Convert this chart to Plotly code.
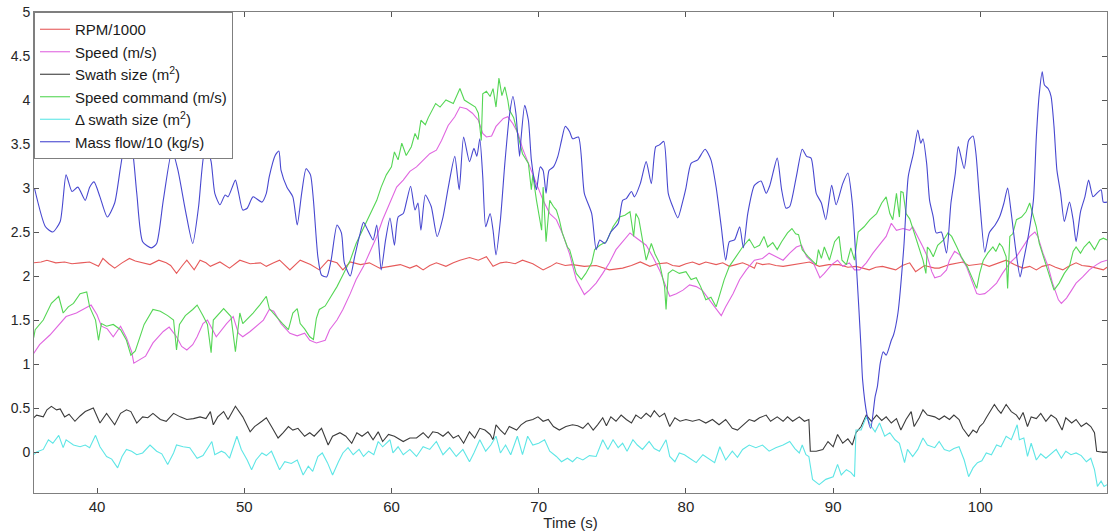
import plotly.graph_objects as go

# ---------------- data ----------------
blue_t = [35.75, 36.5, 37.0, 37.5, 37.9, 38.3, 38.7, 39.2, 39.5, 39.8, 40.2, 40.7, 41.2, 41.6, 42.0, 42.35,
          42.7, 43.1, 43.7, 44.05, 44.5, 45.1, 45.5, 46.0, 46.5, 46.9, 47.3, 47.5, 47.75, 48.0, 48.35, 48.7,
          48.9, 49.4, 49.6, 49.9, 50.2, 50.6, 51.2, 51.5, 51.7, 52.1, 52.35, 52.5, 52.9, 53.3, 53.6, 53.9,
          54.2, 54.5, 54.7, 55.0, 55.25, 55.6, 55.9, 56.3, 56.6, 56.8, 57.2, 57.5, 57.85, 58.1, 58.4, 58.75,
          59.0, 59.3, 59.6, 59.9, 60.2, 60.45, 60.8, 61.0, 61.3, 61.6, 61.8, 62.0, 62.3, 62.7, 63.1, 63.5,
          63.85, 64.3, 64.6, 64.9, 65.3, 65.6, 65.8, 66.0, 66.2, 66.4, 66.7, 66.9, 67.1, 67.4, 67.7, 68.0,
          68.25, 68.45, 68.7, 68.8, 69.05, 69.3, 69.5, 69.7, 69.85, 70.1, 70.3, 70.5, 70.7, 71.0, 71.3, 71.55,
          71.8, 72.1, 72.3, 72.7, 73.1, 73.6, 73.9, 74.15, 74.5, 74.9, 75.4, 75.7, 75.95, 76.3, 76.5, 76.9,
          77.3, 77.65, 77.95, 78.2, 78.5, 78.8, 79.1, 79.45, 79.8, 80.0, 80.35, 80.8, 81.3, 81.7, 82.05, 82.4,
          82.7, 82.95, 83.3, 83.65, 83.9, 84.2, 84.65, 85.1, 85.45, 85.7, 86.2, 86.5, 86.8, 87.05, 87.5, 87.9,
          88.2, 88.5, 88.85, 89.2, 89.5, 89.9, 90.2, 90.65, 91.0, 91.3, 91.5, 91.75, 91.9, 92.0, 92.3, 92.55,
          92.85, 93.0, 93.2, 93.4, 93.6, 93.95, 94.1, 94.4, 94.8, 95.1, 95.45, 95.75, 95.95, 96.1, 96.35, 96.55,
          96.8, 97.0, 97.35, 97.7, 98.0, 98.3, 98.5, 98.9, 99.2, 99.5, 99.7, 99.95, 100.3, 100.6, 101.0, 101.3,
          101.6, 101.85, 102.1, 102.4, 102.7, 102.9, 103.25, 103.6, 103.8, 104.0, 104.2, 104.35, 104.6, 104.8,
          105.0, 105.2, 105.45, 105.7, 106.05, 106.3, 106.5, 106.8, 107.1, 107.35, 107.65, 107.9, 108.2,
          108.35, 108.6]
blue_v = [3.00, 2.56, 2.50, 2.62, 3.15, 2.96, 3.01, 2.86, 3.01, 3.07, 2.90, 2.67, 2.83, 3.24, 3.60, 3.49,
          2.94, 2.39, 2.32, 2.37, 2.86, 3.43, 3.20, 2.75, 2.37, 2.79, 3.41, 3.43, 3.30, 2.94, 2.81, 2.92,
          2.90, 3.09, 2.96, 2.75, 2.77, 2.90, 2.84, 2.94, 3.13, 3.37, 3.42, 3.20, 3.01, 2.90, 2.58, 2.94,
          3.22, 3.15, 2.86, 2.22, 2.01, 1.99, 2.18, 2.58, 2.49, 2.15, 2.00, 2.22, 2.47, 2.61, 2.52, 2.41,
          2.58, 2.07, 2.41, 2.66, 2.35, 2.67, 2.71, 2.83, 3.02, 2.75, 2.83, 2.52, 2.92, 2.79, 2.45, 2.67,
          3.00, 3.36, 2.98, 3.58, 3.30, 3.45, 3.36, 3.56, 3.13, 2.56, 2.71, 2.52, 2.24, 2.64, 3.28, 3.81,
          4.04, 3.85, 3.36, 3.56, 3.94, 3.77, 3.32, 3.09, 2.98, 3.24, 3.20, 2.94, 3.20, 3.24, 3.36, 3.54,
          3.70, 3.64, 3.56, 3.58, 2.94, 2.71, 2.30, 2.41, 2.37, 2.50, 2.60, 2.86, 2.88, 2.96, 2.90, 3.05,
          3.30, 3.05, 3.47, 3.49, 3.53, 2.94, 2.79, 2.66, 2.86, 3.00, 3.28, 3.32, 3.44, 3.32, 3.01, 2.56,
          2.18, 2.39, 2.41, 2.56, 2.32, 2.71, 3.03, 3.08, 2.94, 3.03, 3.34, 2.98, 2.77, 2.79, 3.13, 3.44,
          3.36, 3.34, 2.94, 2.83, 2.64, 3.03, 2.81, 3.05, 3.17, 2.83, 2.33, 1.62, 1.16, 0.82, 0.42, 0.27,
          0.63, 0.74, 1.01, 1.14, 1.10, 1.27, 1.33, 1.58, 2.33, 3.13, 3.39, 3.66, 3.51, 3.56, 3.28, 2.86,
          2.67, 2.49, 2.50, 2.26, 2.83, 3.17, 3.47, 3.22, 3.54, 3.59, 3.39, 2.86, 2.27, 2.49, 2.58, 2.67,
          2.83, 3.00, 2.71, 2.30, 1.99, 2.15, 2.45, 2.86, 3.58, 4.07, 4.32, 4.17, 4.13, 4.04,
          3.70, 3.20, 2.94, 2.62, 2.84, 2.64, 2.39, 2.73, 2.90, 3.09, 2.90, 2.94, 2.98,
          2.84, 2.84]

green_t = [35.7, 35.8, 36.35, 36.9, 37.4, 37.7, 38.05, 38.4, 38.85, 39.3, 39.5, 39.9, 40.1, 40.3, 40.65,
           41.1, 41.6, 42.0, 42.3, 42.6, 43.2, 43.8, 44.3, 44.8, 45.2, 45.4, 45.6, 46.0, 46.5, 46.8, 47.2,
           47.5, 47.75, 47.9, 48.6, 49.1, 49.4, 49.7, 49.9, 50.6, 51.05, 51.5, 51.7, 52.1, 52.6, 53.0, 53.3,
           53.6, 53.8, 54.1, 54.45, 54.7, 54.9, 55.1, 55.5, 55.9, 56.3, 56.75, 57.2, 57.6, 58.1, 58.55, 59.0,
           59.3, 59.65, 60.0, 60.2, 60.45, 60.7, 61.0, 61.35, 61.6, 61.8, 62.0, 62.3, 62.5, 62.8, 63.0, 63.3,
           63.7, 64.2, 64.65, 64.95, 65.3, 65.7, 65.9, 66.1, 66.2, 66.45, 66.7, 66.9, 67.1, 67.3, 67.5, 67.7,
           67.9, 68.0, 68.3, 68.7, 68.9, 69.3, 69.5, 69.6, 69.85, 70.2, 70.3, 70.5, 70.75, 71.0, 71.2, 71.4,
           71.6, 71.95, 72.1, 72.55, 72.9, 73.2, 73.6, 73.8, 74.15, 74.6, 75.05, 75.5, 75.85, 76.2, 76.45,
           76.6, 76.8, 77.05, 77.3, 77.65, 77.9, 78.2, 78.55, 78.65, 78.8, 79.1, 79.55, 80.0, 80.35, 80.7,
           81.0, 81.35, 81.7, 82.05, 82.3, 82.6, 82.95, 83.4, 83.85, 84.3, 84.65, 85.0, 85.3, 85.55, 85.9,
           86.2, 86.5, 86.9, 87.2, 87.45, 87.65, 87.9, 88.3, 88.85, 89.0, 89.2, 89.4, 89.75, 90.1, 90.4,
           90.6, 90.9, 91.2, 91.45, 91.7, 92.1, 92.5, 92.95, 93.3, 93.6, 93.85, 94.05, 94.3, 94.5, 94.6,
           94.75, 94.95, 95.2, 95.5, 95.85, 96.1, 96.3, 96.4, 96.55, 96.8, 97.1, 97.5, 97.8, 98.05, 98.4,
           98.7, 99.1, 99.4, 99.75, 99.95, 100.2, 100.5, 100.85, 101.05, 101.3, 101.5, 101.75, 101.85, 102.0,
           102.2, 102.45, 102.8, 103.1, 103.35, 103.55, 103.8, 104.0, 104.35, 104.7, 105.0, 105.35, 105.7,
           106.05, 106.3, 106.5, 106.8, 107.05, 107.4, 107.75, 108.1, 108.35, 108.6]
green_v = [1.30, 1.39, 1.50, 1.69, 1.77, 1.58, 1.65, 1.69, 1.80, 1.82, 1.65, 1.50, 1.27, 1.46, 1.43,
           1.45, 1.39, 1.27, 1.10, 1.15, 1.45, 1.62, 1.60, 1.55, 1.50, 1.16, 1.45, 1.55, 1.62, 1.67, 1.55,
           1.45, 1.13, 1.50, 1.63, 1.54, 1.14, 1.58, 1.46, 1.58, 1.67, 1.77, 1.63, 1.55, 1.46, 1.39, 1.58,
           1.63, 1.46, 1.40, 1.31, 1.28, 1.52, 1.62, 1.66, 1.77, 1.88, 2.03, 2.18, 2.37, 2.54, 2.69, 2.86,
           3.01, 3.15, 3.24, 3.41, 3.32, 3.51, 3.37, 3.47, 3.62, 3.55, 3.77, 3.72, 3.80, 3.89, 3.96, 3.92,
           4.00, 3.96, 4.13, 4.00, 3.96, 3.92, 3.85, 3.54, 4.07, 4.10, 4.04, 4.13, 3.92, 4.25, 4.05, 4.15,
           4.00, 3.89, 3.80, 3.54, 3.39, 3.28, 2.98, 3.15, 2.86, 2.52, 3.01, 2.39, 2.86, 2.79, 2.75, 2.64,
           2.49, 2.33, 2.30, 2.03, 1.96, 2.03, 2.15, 2.30, 2.35, 2.39, 2.56, 2.67, 2.69, 2.73, 2.45,
           2.71, 2.65, 2.41, 2.18, 2.37, 2.25, 2.15, 1.88, 1.62, 2.03, 2.07, 2.03, 2.05, 1.96, 1.98,
           1.88, 1.73, 1.76, 1.65, 1.80, 1.96, 2.11, 2.22, 2.33, 2.42, 2.32, 2.35, 2.45, 2.33, 2.38,
           2.30, 2.39, 2.49, 2.54, 2.48, 2.47, 2.30, 2.22, 2.13, 2.30, 2.20, 2.33, 2.18, 2.39, 2.45,
           2.18, 2.13, 2.32, 2.18, 2.50, 2.56, 2.64, 2.71, 2.83, 2.90, 2.71, 2.64, 2.94, 2.67, 2.96,
           2.95, 2.71, 2.65, 2.49, 2.33, 2.18, 2.03, 2.33, 2.30, 2.22, 2.35, 2.41, 2.49, 2.45, 2.33,
           2.22, 2.11, 1.99, 1.86, 2.03, 2.18, 2.26, 2.33, 2.28, 2.37, 2.33, 2.22, 1.86, 2.45,
           2.48, 2.64, 2.67, 2.73, 2.83, 2.71, 2.56, 2.37, 2.18, 1.99, 1.84, 1.92, 2.03,
           2.11, 2.28, 2.33, 2.26, 2.33, 2.39, 2.30, 2.41, 2.43, 2.41]

magenta_t = [35.7, 36.1, 36.8, 37.5, 37.9, 38.6, 39.2, 39.6, 40.0, 40.3, 40.7, 41.1, 41.6, 42.0, 42.35,
             42.5, 43.3, 43.8, 44.5, 44.9, 45.4, 45.75, 46.1, 46.5, 46.8, 47.2, 47.5, 47.8, 48.1, 48.8,
             49.25, 49.6, 49.9, 50.4, 50.8, 51.3, 51.7, 52.0, 52.5, 53.1, 53.6, 54.1, 54.45, 54.9, 55.5,
             55.8, 56.3, 56.7, 57.2, 57.6, 58.1, 58.5, 59.0, 59.4, 59.9, 60.35, 60.8, 61.25, 61.7, 62.15,
             62.6, 63.05, 63.4, 63.85, 64.3, 64.65, 65.1, 65.5, 65.9, 66.2, 66.45, 66.8, 67.1, 67.6, 67.9,
             68.25, 68.6, 68.9, 69.4, 69.85, 70.3, 70.75, 71.2, 71.6, 72.1, 72.55, 72.9, 73.1, 73.45, 73.9,
             74.35, 74.8, 75.25, 75.7, 76.2, 76.5, 76.85, 77.3, 77.75, 78.2, 78.55, 78.9, 79.35, 79.8, 80.25,
             80.7, 81.1, 81.6, 82.05, 82.4, 82.7, 83.2, 83.65, 84.1, 84.65, 85.2, 85.65, 86.1, 86.6, 87.05,
             87.5, 87.85, 88.2, 88.65, 89.1, 89.4, 89.9, 90.3, 90.65, 91.1, 91.45, 91.8, 92.25, 92.7, 93.15,
             93.6, 93.95, 94.3, 94.75, 95.2, 95.4, 95.75, 96.1, 96.4, 96.7, 96.9, 97.3, 97.7, 97.9, 98.25,
             98.6, 99.05, 99.4, 99.75, 99.95, 100.3, 100.6, 101.1, 101.5, 102.0, 102.45, 102.9, 103.35,
             103.7, 103.9, 104.25, 104.6, 104.9, 105.3, 105.5, 105.85, 106.2, 106.5, 106.95, 107.4, 107.9,
             108.2, 108.6]
magenta_v = [1.12, 1.22, 1.33, 1.46, 1.54, 1.58, 1.63, 1.67, 1.56, 1.43, 1.40, 1.31, 1.43, 1.30, 1.14,
             1.01, 1.09, 1.24, 1.37, 1.42, 1.31, 1.20, 1.16, 1.22, 1.31, 1.46, 1.50, 1.40, 1.31, 1.46,
             1.54, 1.35, 1.31, 1.37, 1.43, 1.50, 1.62, 1.60, 1.46, 1.35, 1.32, 1.35, 1.27, 1.24, 1.27,
             1.39, 1.50, 1.62, 1.80, 1.96, 2.11, 2.26, 2.45, 2.64, 2.84, 3.01, 3.09, 3.19, 3.24, 3.32,
             3.39, 3.43, 3.54, 3.71, 3.81, 3.92, 3.90, 3.85, 3.77, 3.62, 3.58, 3.59, 3.70, 3.79, 3.81,
             3.73, 3.62, 3.45, 3.24, 3.05, 2.86, 2.71, 2.64, 2.49, 2.25, 1.96, 1.84, 1.79, 1.84, 1.92,
             2.03, 2.15, 2.30, 2.39, 2.49, 2.45, 2.41, 2.35, 2.22, 2.07, 1.92, 1.77, 1.80, 1.84, 1.90,
             1.88, 1.84, 1.73, 1.63, 1.55, 1.65, 1.80, 1.96, 2.07, 2.18, 2.20, 2.26, 2.22, 2.18, 2.26,
             2.33, 2.35, 2.22, 2.15, 1.98, 2.03, 2.13, 2.18, 2.11, 2.15, 2.07, 2.07, 2.15, 2.26, 2.35,
             2.45, 2.60, 2.52, 2.54, 2.52, 2.56, 2.45, 2.33, 2.22, 2.05, 1.98, 2.00, 2.07, 2.18, 2.28,
             2.24, 2.11, 1.96, 1.80, 1.79, 1.80, 1.84, 1.92, 2.03, 2.15, 2.22, 2.33, 2.45,
             2.50, 2.45, 2.26, 2.11, 1.92, 1.73, 1.69, 1.75, 1.84, 1.92, 1.99, 2.07, 2.13,
             2.16, 2.18]

red_t = [35.7, 36.2, 36.6, 37.2, 37.8, 38.3, 38.9, 39.5, 40.1, 40.4, 40.8, 41.2, 41.7, 42.2, 42.6, 43.1,
         43.6, 44.2, 44.7, 45.0, 45.4, 45.8, 46.1, 46.6, 47.0, 47.4, 47.7, 48.35, 49.0, 49.7, 50.4, 51.1,
         51.5, 52.0, 52.4, 53.1, 53.8, 54.5, 55.1, 55.7, 56.3, 56.7, 57.2, 57.9, 58.5, 59.2, 59.9, 60.6,
         61.25, 61.7, 62.15, 62.6, 63.05, 63.7, 64.2, 64.65, 65.3, 65.9, 66.45, 66.9, 67.4, 67.8, 68.4,
         68.9, 69.6, 70.3, 70.8, 71.2, 71.8, 72.3, 73.1, 73.9, 74.8, 75.7, 76.3, 76.9, 77.55, 78.1, 78.7,
         79.1, 79.55, 80.0, 80.45, 80.9, 81.35, 82.05, 82.5, 82.95, 83.4, 83.85, 84.3, 84.65, 84.8, 85.2,
         85.65, 86.1, 86.6, 87.25, 87.8, 88.4, 89.05, 89.7, 90.4, 91.0, 91.55, 92.0, 92.45, 92.9, 93.35,
         93.8, 94.25, 94.7, 95.2, 95.6, 96.2, 96.9, 97.2, 97.9, 98.3, 98.8, 99.2, 99.7, 100.1, 100.6, 101.2,
         101.75, 102.3, 102.9, 103.35, 103.8, 104.2, 104.7, 105.1, 105.6, 106.0, 106.5, 106.9, 107.4,
         107.9, 108.35, 108.6]
red_v = [2.15, 2.16, 2.18, 2.15, 2.16, 2.14, 2.15, 2.16, 2.11, 2.20, 2.14, 2.09, 2.15, 2.20, 2.17, 2.15,
         2.13, 2.18, 2.15, 2.12, 2.03, 2.12, 2.18, 2.07, 2.18, 2.15, 2.11, 2.16, 2.09, 2.18, 2.14, 2.15,
         2.11, 2.15, 2.18, 2.07, 2.18, 2.13, 2.07, 2.18, 2.15, 2.07, 2.16, 2.13, 2.15, 2.09, 2.11, 2.13,
         2.09, 2.12, 2.07, 2.12, 2.15, 2.11, 2.15, 2.18, 2.21, 2.18, 2.22, 2.11, 2.15, 2.16, 2.14,
         2.18, 2.14, 2.07, 2.11, 2.15, 2.12, 2.13, 2.11, 2.12, 2.07, 2.09, 2.12, 2.16, 2.11, 2.14, 2.15,
         2.12, 2.11, 2.14, 2.16, 2.13, 2.16, 2.13, 2.15, 2.11, 2.13, 2.15, 2.12, 2.09, 2.15, 2.13,
         2.14, 2.12, 2.11, 2.13, 2.15, 2.16, 2.11, 2.13, 2.13, 2.10, 2.11, 2.09, 2.07, 2.10, 2.11,
         2.09, 2.07, 2.12, 2.15, 2.05, 2.12, 2.09, 2.09, 2.13, 2.14, 2.16, 2.12, 2.13, 2.14, 2.11, 2.15,
         2.18, 2.13, 2.09, 2.11, 2.07, 2.11, 2.13, 2.10, 2.07, 2.11, 2.15, 2.12, 2.11,
         2.09, 2.07, 2.10]

black_t = [35.7, 35.9, 36.35, 36.6, 36.9, 37.25, 37.5, 37.8, 38.1, 38.5, 38.85, 39.2, 39.75, 40.2, 40.65,
           41.2, 41.6, 42.0, 42.3, 42.7, 43.1, 43.45, 43.8, 44.3, 44.7, 45.2, 45.65, 46.1, 46.55, 47.0,
           47.4, 47.7, 47.9, 48.2, 48.6, 48.9, 49.4, 49.6, 49.9, 50.4, 50.7, 51.2, 51.5, 51.85, 52.3,
           52.65, 53.0, 53.3, 53.65, 54.1, 54.45, 54.75, 55.25, 55.7, 56.0, 56.5, 56.9, 57.3, 57.65, 58.0,
           58.4, 58.75, 59.1, 59.4, 59.8, 60.2, 60.8, 61.25, 61.7, 62.15, 62.5, 62.8, 63.15, 63.5, 63.85,
           64.2, 64.55, 64.9, 65.3, 65.65, 66.0, 66.35, 66.7, 66.9, 67.1, 67.4, 67.7, 68.0, 68.5, 68.8,
           69.15, 69.6, 69.95, 70.3, 70.65, 71.0, 71.4, 71.85, 72.3, 72.65, 73.0, 73.35, 73.7, 74.0, 74.35,
           74.6, 74.9, 75.25, 75.6, 75.95, 76.3, 76.6, 76.95, 77.3, 77.6, 77.85, 78.2, 78.55, 78.9, 79.25,
           79.6, 80.0, 80.45, 80.9, 81.35, 81.8, 82.25, 82.7, 83.15, 83.5, 83.9, 84.3, 84.65, 85.0, 85.45,
           85.75, 86.2, 86.6, 86.9, 87.25, 87.7, 88.05, 88.35, 88.45, 88.85, 89.3, 89.65, 90.0, 90.3, 90.65,
           91.0, 91.3, 91.55, 91.9, 92.25, 92.6, 92.95, 93.3, 93.6, 93.95, 94.3, 94.6, 94.95, 95.3, 95.5,
           95.85, 96.1, 96.4, 96.9, 97.2, 97.55, 97.9, 98.2, 98.55, 98.8, 99.2, 99.5, 99.75, 99.95, 100.2,
           100.4, 100.6, 100.95, 101.2, 101.4, 101.75, 102.1, 102.45, 102.65, 102.9, 103.2, 103.45, 103.8,
           104.1, 104.45, 104.8, 105.15, 105.55, 105.8, 106.2, 106.5, 106.85, 107.2, 107.5, 107.75, 107.9,
           108.2, 108.6]
black_v = [0.39, 0.42, 0.40, 0.48, 0.52, 0.48, 0.49, 0.40, 0.43, 0.35, 0.41, 0.46, 0.50, 0.33, 0.44,
           0.31, 0.44, 0.48, 0.46, 0.33, 0.40, 0.39, 0.44, 0.37, 0.35, 0.44, 0.40, 0.37, 0.38, 0.40,
           0.38, 0.46, 0.31, 0.40, 0.46, 0.37, 0.52, 0.47, 0.40, 0.23, 0.29, 0.35, 0.39, 0.29, 0.16,
           0.22, 0.29, 0.25, 0.27, 0.18, 0.22, 0.18, 0.27, 0.08, 0.18, 0.22, 0.18, 0.10, 0.22, 0.18,
           0.23, 0.14, 0.23, 0.12, 0.20, 0.18, 0.12, 0.16, 0.16, 0.22, 0.16, 0.23, 0.22, 0.18, 0.23,
           0.16, 0.19, 0.10, 0.23, 0.16, 0.27, 0.25, 0.20, 0.14, 0.31, 0.25, 0.20, 0.29, 0.25, 0.31,
           0.35, 0.37, 0.40, 0.35, 0.37, 0.29, 0.25, 0.29, 0.31, 0.30, 0.27, 0.33, 0.25, 0.31, 0.39,
           0.30, 0.40, 0.35, 0.42, 0.37, 0.33, 0.42, 0.38, 0.44, 0.40, 0.47, 0.40, 0.44, 0.29, 0.39,
           0.35, 0.37, 0.35, 0.37, 0.33, 0.37, 0.31, 0.37, 0.27, 0.25, 0.31, 0.37, 0.35, 0.39, 0.42,
           0.35, 0.40, 0.35, 0.40, 0.35, 0.40, 0.35, 0.37, 0.01, 0.01, 0.03, 0.12, 0.06, 0.20, 0.10,
           0.15, 0.08, 0.22, 0.29, 0.42, 0.35, 0.42, 0.36, 0.40, 0.33, 0.38, 0.25, 0.37, 0.46, 0.29,
           0.39, 0.48, 0.42, 0.40, 0.37, 0.41, 0.37, 0.42, 0.37, 0.27, 0.18, 0.25, 0.22, 0.29, 0.33,
           0.39, 0.44, 0.54, 0.48, 0.44, 0.54, 0.46, 0.42, 0.37, 0.45, 0.29, 0.40, 0.38,
           0.44, 0.35, 0.42, 0.38, 0.25, 0.39, 0.33, 0.37, 0.29, 0.33, 0.29, 0.22, 0.01,
           0.00, 0.00]

cyan_t = [35.7, 35.9, 36.35, 36.7, 37.0, 37.4, 37.7, 37.9, 38.4, 38.85, 39.2, 39.5, 39.9, 40.2, 40.65,
          41.0, 41.4, 41.7, 42.0, 42.35, 42.7, 43.1, 43.6, 44.05, 44.4, 44.8, 45.2, 45.4, 45.85, 46.3,
          46.8, 47.2, 47.8, 48.0, 48.45, 48.7, 49.0, 49.5, 49.8, 50.2, 50.5, 50.8, 51.2, 51.5, 51.85,
          52.2, 52.4, 52.75, 53.2, 53.6, 54.0, 54.35, 54.65, 55.0, 55.3, 55.65, 56.0, 56.4, 56.7, 57.05,
          57.4, 57.8, 58.1, 58.45, 58.8, 59.1, 59.4, 59.9, 60.1, 60.45, 60.8, 61.25, 61.7, 62.15, 62.6,
          63.05, 63.5, 63.95, 64.4, 64.85, 65.3, 65.6, 66.0, 66.4, 66.75, 67.1, 67.4, 67.75, 68.1, 68.55,
          68.9, 69.25, 69.6, 70.0, 70.4, 70.75, 71.2, 71.55, 71.95, 72.3, 72.6, 73.0, 73.45, 73.9, 74.35,
          74.7, 75.05, 75.4, 75.7, 76.0, 76.4, 76.7, 77.05, 77.5, 77.85, 78.2, 78.65, 78.9, 79.25, 79.55,
          79.9, 80.25, 80.7, 81.15, 81.55, 81.95, 82.3, 82.7, 83.15, 83.5, 83.85, 84.3, 84.75, 85.2, 85.65,
          86.1, 86.6, 87.05, 87.4, 87.7, 87.9, 88.15, 88.35, 88.6, 89.05, 89.5, 90.0, 90.3, 90.55, 90.9,
          91.2, 91.45, 91.55, 91.9, 92.25, 92.6, 92.85, 93.15, 93.5, 93.85, 94.2, 94.5, 94.85, 95.05, 95.4,
          95.75, 96.1, 96.4, 96.9, 97.2, 97.55, 97.9, 98.2, 98.55, 98.9, 99.2, 99.5, 99.8, 100.1, 100.4,
          100.75, 101.1, 101.4, 101.75, 102.1, 102.3, 102.5, 102.65, 102.95, 103.2, 103.45, 103.8, 104.1,
          104.45, 104.8, 105.15, 105.5, 105.8, 106.15, 106.5, 106.85, 107.2, 107.5, 107.75, 107.95, 108.2,
          108.4, 108.6]
cyan_v = [-0.03, 0.00, 0.03, 0.14, 0.10, 0.19, 0.05, 0.14, 0.08, 0.06, 0.08, 0.05, 0.19, 0.06, -0.05,
          -0.08, -0.18, -0.05, 0.03, 0.01, -0.03, -0.01, 0.08, 0.01, -0.02, -0.14, -0.01, 0.08, 0.06, 0.05,
          -0.07, -0.04, 0.12, -0.03, 0.01, -0.01, -0.07, 0.18, 0.03, -0.09, -0.20, -0.09, -0.01, -0.04, 0.01,
          -0.12, -0.20, -0.11, -0.13, -0.09, -0.26, -0.16, -0.22, -0.05, -0.01, -0.12, -0.26, -0.11, -0.01, 0.05,
          -0.03, 0.03, -0.05, 0.01, -0.03, 0.12, 0.06, 0.14, -0.01, 0.06, -0.03, 0.03, -0.05, 0.06, 0.03,
          0.12, -0.03, 0.05, -0.05, 0.03, -0.11, -0.01, 0.14, 0.01, 0.08, 0.18, -0.01, 0.08, -0.03, 0.18,
          -0.03, 0.18, 0.08, 0.10, 0.14, 0.01, -0.05, -0.11, -0.07, -0.11, -0.06, -0.09, -0.04, -0.05, 0.14,
          0.03, 0.14, 0.05, 0.10, 0.01, 0.14, 0.08, 0.03, 0.12, 0.04, 0.01, 0.14, -0.05, -0.11, -0.01,
          -0.03, -0.07, -0.12, -0.03, -0.08, -0.12, 0.06, -0.09, 0.01, -0.06, 0.03, 0.08, 0.05, 0.08, 0.01,
          0.05, 0.08, 0.12, 0.04, -0.01, 0.08, -0.03, -0.05, -0.31, -0.37, -0.31, -0.28, -0.14, -0.26, -0.20,
          -0.23, -0.28, 0.25, 0.25, 0.40, 0.29, 0.23, 0.33, 0.18, 0.22, 0.14, 0.10, -0.12, 0.03, -0.05,
          0.03, 0.16, 0.08, 0.05, 0.12, 0.03, 0.01, 0.04, 0.06, -0.09, -0.28, -0.18, -0.12, -0.10, -0.01,
          -0.03, 0.08, 0.06, 0.18, 0.14, 0.22, 0.31, 0.14, 0.16, -0.05, 0.10, -0.09, -0.02,
          -0.07, -0.02, 0.03, -0.07, 0.01, -0.03, -0.01, -0.04, -0.11, -0.07, -0.20, -0.39, -0.33,
          -0.39, -0.37]

series_names = ["RPM/1000", "Speed (m/s)", "Swath size (m<sup>2</sup>)", "Speed command (m/s)",
                "\u0394 swath size (m<sup>2</sup>)", "Mass flow/10 (kg/s)"]
series_colors = ["#e65a5a", "#e066e0", "#3c3c3c", "#55d655", "#5ee6e6", "#4848d0"]
series_shapes = ["linear", "linear", "linear", "linear", "linear", "spline"]
x_ticks = [40, 50, 60, 70, 80, 90, 100]
y_ticks = [0, 0.5, 1, 1.5, 2, 2.5, 3, 3.5, 4, 4.5, 5]

# ---------------- figure ----------------
fig = go.Figure()
series = [(red_t, red_v), (magenta_t, magenta_v), (black_t, black_v),
          (green_t, green_v), (cyan_t, cyan_v), (blue_t, blue_v)]
for (tx, vy), name, col, shp in zip(series, series_names, series_colors, series_shapes):
    line = dict(color=col, width=1.1, shape=shp)
    if shp == "spline":
        line["smoothing"] = 0.6
    fig.add_trace(go.Scatter(x=tx, y=vy, mode="lines", name=name, line=line))

font_family = "Liberation Sans, Arial, sans-serif"
fig.update_layout(
    width=1110, height=531,
    margin=dict(l=34, r=3, t=12, b=38),
    paper_bgcolor="white", plot_bgcolor="white",
    font=dict(family=font_family, size=15, color="#262626"),
    showlegend=True,
    legend=dict(x=0.0, y=1.0, xanchor="left", yanchor="top",
                bgcolor="white", bordercolor="#7f7f7f", borderwidth=1,
                font=dict(size=15, color="#1a1a1a"),
                itemwidth=30, traceorder="normal"),
    xaxis=dict(range=[35.72, 108.6], tickvals=x_ticks, ticks="inside", ticklen=5,
               tickcolor="#555555", showline=True, linecolor="#7f7f7f", linewidth=1,
               mirror="ticks", showgrid=False, zeroline=False,
               tickfont=dict(size=15),
               title=dict(text="Time (s)", standoff=0, font=dict(size=15))),
    yaxis=dict(range=[-0.465, 5.0], tickvals=y_ticks, ticks="inside", ticklen=5,
               tickcolor="#555555", showline=True, linecolor="#7f7f7f", linewidth=1,
               mirror="ticks", showgrid=False, zeroline=False,
               tickfont=dict(size=14)),
)

fig.write_html("out.html")
